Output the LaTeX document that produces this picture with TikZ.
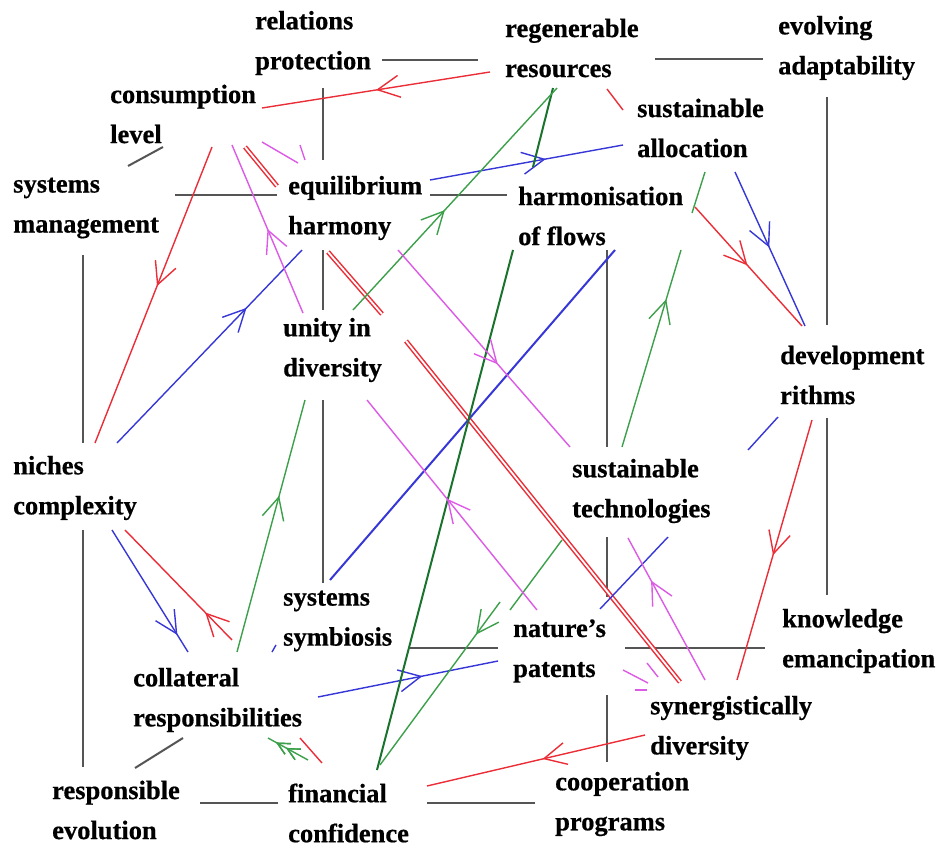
\documentclass[tikz,border=0pt]{standalone}
\usepackage{fontspec}
\setmainfont{Liberation Serif}[BoldFeatures={FakeBold=0.6}]
\usetikzlibrary{arrows.meta,decorations.markings}

\definecolor{linkgray}{RGB}{85,85,85}
\definecolor{linkred}{RGB}{235,45,55}
\definecolor{linkblue}{RGB}{55,55,215}
\definecolor{linkgreen}{RGB}{60,160,75}
\definecolor{darkgreen}{RGB}{25,115,45}
\definecolor{linkpink}{RGB}{220,90,230}

\begin{document}
\begin{tikzpicture}
    [x=1pt, y=-1pt,
    concept/.style={anchor=west, align=left, inner sep=0pt,
        font=\fontsize{26.5}{40}\selectfont\bfseries},
    link/.style={color=linkgray, line width=2pt},
    redlink/.style={color=linkred, line width=1.4pt},
    redpair/.style={color=linkred, line width=1.5pt, double=white, double distance=1.8pt},
    bluelink/.style={color=linkblue, line width=1.4pt},
    greenlink/.style={color=linkgreen, line width=1.4pt},
    pinklink/.style={color=linkpink, line width=1.4pt},
    arr/.style={postaction={decorate}, decoration={markings,
        mark=at position #1 with {\arrow{Straight Barb[length=22pt,width=22pt]}}}},
    smallarr/.style={postaction={decorate}, decoration={markings,
        mark=at position #1 with {\arrow{Straight Barb[length=12pt,width=12pt]}}}}]

    \useasboundingbox (0,0) rectangle (942,848);

    % concepts
    \node[concept] (prot) at (255,43) {relations\\protection};
    \node[concept] (regen) at (505,48) {regenerable\\resources};
    \node[concept] (adapt) at (778,48) {evolving\\adaptability};
    \node[concept] (cons) at (110,114) {consumption\\level};
    \node[concept] (alloc) at (637,128) {sustainable\\allocation};
    \node[concept] (mgmt) at (13,208) {systems\\management};
    \node[concept] (equil) at (288,208) {equilibrium\\harmony};
    \node[concept] (flows) at (518,216) {harmonisation\\of flows};
    \node[concept] (unity) at (283,350) {unity in\\diversity};
    \node[concept] (rithm) at (780,375) {development\\rithms};
    \node[concept] (niche) at (13,488) {niches\\complexity};
    \node[concept] (tech) at (572,491) {sustainable\\technologies};
    \node[concept] (symb) at (283,621) {systems\\symbiosis};
    \node[concept] (patent) at (513,651) {nature's\\patents};
    \node[concept] (knowl) at (782,641) {knowledge\\emancipation};
    \node[concept] (collat) at (133,700) {collateral\\responsibilities};
    \node[concept] (synerg) at (650,728) {synergistically\\diversity};
    \node[concept] (resp) at (52,810) {responsible\\evolution};
    \node[concept] (fin) at (288,813) {financial\\confidence};
    \node[concept] (coop) at (555,804) {cooperation\\programs};

    % ends of the connectors
    \foreach \n/\x/\y in {prot-e/382/60, regen-w/478/60, regen-e/655/59, adapt-w/763/59,
        prot-s/323/88, equil-n/323/160, cons-s/163/147, mgmt-n/128/166,
        mgmt-e/175/195, equil-w/277/195, equil-e/430/195, flows-w/507/195,
        adapt-s/827/97, rithm-n/827/325, rithm-s/827/418, knowl-n/827/595,
        mgmt-s/83/255, niche-n/83/443, niche-s/83/530, resp-n/83/767,
        equil-s/323/250, unity-n/323/310, unity-s/323/400, symb-n/323/583,
        flows-s/607/250, tech-n/607/447, tech-s/607/537, patent-ne/607/597,
        patent-se/607/695, coop-n/607/762, symb-e/408/648, patent-w/498/648,
        patent-e/625/648, knowl-w/765/648, collat-s/183/738, resp-ne/135/768,
        resp-e/200/803, fin-w/278/803, fin-e/427/803, coop-w/535/803}
        \coordinate (\n) at (\x,\y);
    \foreach \n/\x/\y in {regen-r1/490/72, cons-r1/262/108, cons-r2/212/147, niche-r2/95/443,
        regen-r3/607/89, alloc-r3/623/110, alloc-r4/695/207, rithm-r4/802/326,
        rithm-r5/812/420, synerg-r5/737/680, synerg-r6/645/735, fin-r6/427/786,
        cons-r7/245/147, equil-r7/277/186, equil-r7b/328/252, unity-r7/382/314,
        unity-r7b/406/341, synerg-r7/680/682, collat-r8/232/640, niche-r8/125/530,
        collat-r9/300/738, fin-r9/322/763}
        \coordinate (\n) at (\x,\y);
    \foreach \n/\x/\y in {equil-b1/430/180, alloc-b1/623/145, alloc-b2/735/172, rithm-b2/805/326,
        niche-b3/117/443, equil-b3/302/250, symb-b4/330/580, flows-b4/615/250,
        tech-b5/748/450, rithm-b5/778/417, niche-b6/112/530, collat-b6/188/652,
        collat-b7/272/652, symb-b7/276/645, collat-b8/318/697, patent-b8/498/661,
        tech-b9/668/537, patent-b9/600/609}
        \coordinate (\n) at (\x,\y);
    \foreach \n/\x/\y in {fin-g1/377/770, flows-g1/513/250, flows-g1b/533/167, regen-g1/553/88,
        unity-g2/353/310, regen-g2/557/88, tech-g3/622/447, flows-g3/681/250,
        flows-g3b/692/213, alloc-g3/705/172, tech-g4/562/540, patent-g4/510/610,
        patent-g4b/500/602, fin-g4/380/765, collat-g5/237/652, unity-g5/305/400,
        fin-g6/308/760, collat-g6/268/738}
        \coordinate (\n) at (\x,\y);
    \foreach \n/\x/\y in {unity-p1/303/313, cons-p1/232/145, cons-p2/262/142, equil-p2/298/163,
        cons-p2b/300/145, equil-p2b/305/160, equil-p3/398/250, tech-p3/570/447,
        patent-p4/537/610, unity-p4/367/400, synerg-p5/705/680, tech-p5/628/538,
        patent-p6/623/670, synerg-p6/648/683, patent-p6b/647/663, synerg-p6b/658/677,
        patent-p6c/635/690, synerg-p6c/647/690}
        \coordinate (\n) at (\x,\y);

    % frame
    \draw[link] (prot-e) -- (regen-w);
    \draw[link] (regen-e) -- (adapt-w);
    \draw[link] (prot-s) -- (equil-n);
    \draw[link] (cons-s) -- (mgmt-n);
    \draw[link] (mgmt-e) -- (equil-w);
    \draw[link] (equil-e) -- (flows-w);
    \draw[link] (adapt-s) -- (rithm-n);
    \draw[link] (rithm-s) -- (knowl-n);
    \draw[link] (mgmt-s) -- (niche-n);
    \draw[link] (niche-s) -- (resp-n);
    \draw[link] (equil-s) -- (unity-n);
    \draw[link] (unity-s) -- (symb-n);
    \draw[link] (flows-s) -- (tech-n);
    \draw[link] (tech-s) -- (patent-ne);
    \draw[link] (patent-se) -- (coop-n);
    \draw[link] (symb-e) -- (patent-w);
    \draw[link] (patent-e) -- (knowl-w);
    \draw[link] (collat-s) -- (resp-ne);
    \draw[link] (resp-e) -- (fin-w);
    \draw[link] (fin-e) -- (coop-w);

    % red
    \draw[redlink, arr=0.5] (regen-r1) -- (cons-r1);
    \draw[redlink, arr=0.47] (cons-r2) -- (niche-r2);
    \draw[redlink] (regen-r3) -- (alloc-r3);
    \draw[redlink, arr=0.49] (alloc-r4) -- (rithm-r4);
    \draw[redlink, arr=0.52] (rithm-r5) -- (synerg-r5);
    \draw[redlink, arr=0.47] (synerg-r6) -- (fin-r6);
    \draw[redpair] (cons-r7) -- (equil-r7);
    \draw[redpair] (equil-r7b) -- (unity-r7);
    \draw[redpair] (unity-r7b) -- (synerg-r7);
    \draw[redlink, arr=0.25] (collat-r8) -- (niche-r8);
    \draw[redlink] (collat-r9) -- (fin-r9);

    % blue
    \draw[bluelink, arr=0.6] (equil-b1) -- (alloc-b1);
    \draw[bluelink, arr=0.49] (alloc-b2) -- (rithm-b2);
    \draw[bluelink, arr=0.7] (niche-b3) -- (equil-b3);
    \draw[bluelink, line width=2pt] (symb-b4) -- (flows-b4);
    \draw[bluelink] (tech-b5) -- (rithm-b5);
    \draw[bluelink, arr=0.86] (niche-b6) -- (collat-b6);
    \draw[bluelink] (collat-b7) -- (symb-b7);
    \draw[bluelink, arr=0.58] (collat-b8) -- (patent-b8);
    \draw[bluelink] (tech-b9) -- (patent-b9);

    % green
    \draw[greenlink, color=darkgreen, line width=2pt] (fin-g1) -- (flows-g1);
    \draw[greenlink, color=darkgreen, line width=2pt] (flows-g1b) -- (regen-g1);
    \draw[greenlink, arr=0.45] (unity-g2) -- (regen-g2);
    \draw[greenlink, arr=0.75] (tech-g3) -- (flows-g3);
    \draw[greenlink] (flows-g3b) -- (alloc-g3);
    \draw[greenlink] (tech-g4) -- (patent-g4);
    \draw[greenlink, arr=0.2] (patent-g4b) -- (fin-g4);
    \draw[greenlink, arr=0.62] (collat-g5) -- (unity-g5);
    \draw[greenlink, smallarr=0.55, smallarr=0.8] (fin-g6) -- (collat-g6);

    % pink
    \draw[pinklink, arr=0.5] (unity-p1) -- (cons-p1);
    \draw[pinklink] (cons-p2) -- (equil-p2);
    \draw[pinklink] (cons-p2b) -- (equil-p2b);
    \draw[pinklink, arr=0.58] (equil-p3) -- (tech-p3);
    \draw[pinklink, arr=0.53] (patent-p4) -- (unity-p4);
    \draw[pinklink, arr=0.7] (synerg-p5) -- (tech-p5);
    \draw[pinklink] (patent-p6) -- (synerg-p6);
    \draw[pinklink] (patent-p6b) -- (synerg-p6b);
    \draw[pinklink] (patent-p6c) -- (synerg-p6c);
\end{tikzpicture}
\end{document}
